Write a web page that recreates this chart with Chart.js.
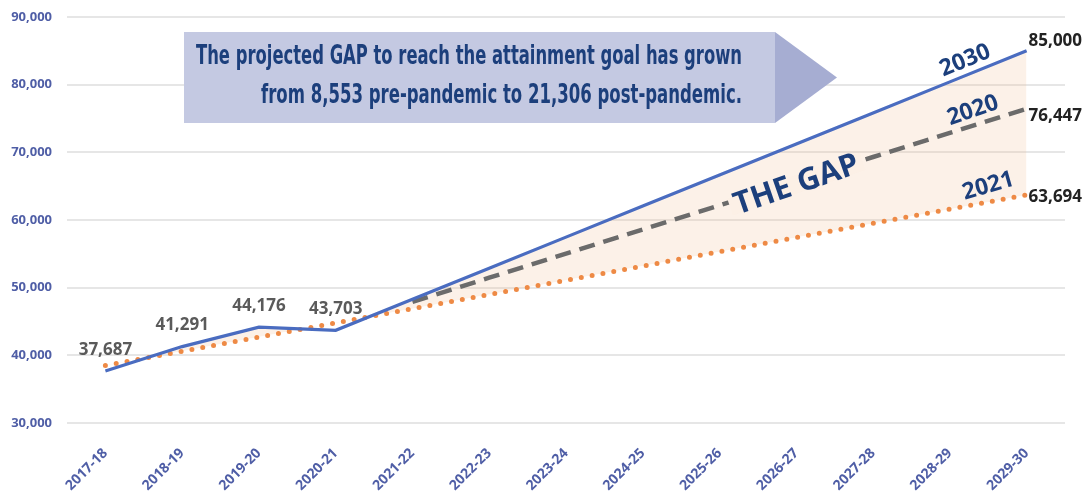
<!DOCTYPE html>
<html><head><meta charset="utf-8">
<script src="https://cdn.jsdelivr.net/npm/chart.js@4/dist/chart.umd.min.js"></script>
<style>html,body{margin:0;padding:0;background:#fff;overflow:hidden}#wrap{width:1087px;height:491px;position:relative}</style>
</head><body><div id="wrap"><canvas id="c" width="1087" height="491"></canvas></div>
<script>
// ---- data ----
const categories = ['2017-18','2018-19','2019-20','2020-21','2021-22','2022-23','2023-24','2024-25','2025-26','2026-27','2027-28','2028-29','2029-30'];
const goal2030 = [37687, 41291, 44176, 43703, 48292, 52880, 57469, 62058, 66646, 71235, 75823, 80412, 85000];
const goal2020 = [null, null, null, null, 47900, 51470, 55040, 58600, 62170, 65740, 69310, 72880, 76447];
const goal2021 = [38500, 40600, 42700, 44800, 46900, 49000, 51100, 53200, 55300, 57400, 59500, 61600, 63694];
const actualLabels = ['37,687', '41,291', '44,176', '43,703'];
const endLabels = ['85,000', '76,447', '63,694'];
const seriesNames = ['2030', '2020', '2021'];
const yTicks = [30000, 40000, 50000, 60000, 70000, 80000, 90000];
const calloutLines = ['The projected GAP to reach the attainment goal has grown', 'from 8,553 pre-pandemic to 21,306 post-pandemic.'];
const gapLabel = 'THE GAP';

const BLUE = '#4a6cc0', GREY = '#6b6b6b', ORANGE = '#ee8a45', NAVY = '#1c3f7c', TICK = '#4f5ea6';
const FILL = 'rgb(252,240,230)';

function xAt(chart, idx) {
  const xs = chart.scales.x;
  const i0 = Math.floor(idx), f = idx - i0;
  const p0 = xs.getPixelForValue(i0);
  const p1 = xs.getPixelForValue(Math.min(i0 + 1, categories.length - 1));
  return p0 + (p1 - p0) * f;
}
function valAt(arr, idx) {
  const i0 = Math.floor(idx), f = idx - i0;
  const a = arr[i0], b = arr[Math.min(i0 + 1, arr.length - 1)];
  return a + (b - a) * f;
}

const annot = {
  id: 'annot',
  beforeDatasetsDraw(chart) {
    const ctx = chart.ctx;
    ctx.save();
    ctx.fillStyle = '#c4c9e2';
    ctx.fillRect(184, 32, 591, 91);
    ctx.fillStyle = '#a6add2';
    ctx.beginPath(); ctx.moveTo(775, 32); ctx.lineTo(837, 77.5); ctx.lineTo(775, 123); ctx.closePath(); ctx.fill();
    ctx.fillStyle = NAVY;
    ctx.textAlign = 'right'; ctx.textBaseline = 'alphabetic';
    ctx.font = 'bold 27px "Liberation Sans Narrow", "DejaVu Sans Condensed", sans-serif';
    ctx.fillText(calloutLines[0], 742, 64, 546);
    ctx.fillText(calloutLines[1], 742, 103, 481);
    ctx.restore();
  },
  afterDatasetsDraw(chart) {
    const ctx = chart.ctx, ys = chart.scales.y;
    ctx.save();
    ctx.font = 'bold 17px "Open Sans", sans-serif';
    ctx.fillStyle = '#5a5a5a';
    ctx.textAlign = 'center'; ctx.textBaseline = 'middle';
    actualLabels.forEach((t, i) => {
      ctx.fillText(t, xAt(chart, i), ys.getPixelForValue(goal2030[i]) - 21);
    });
    ctx.fillStyle = '#222';
    ctx.textAlign = 'left';
    const last = categories.length - 1;
    const ends = [goal2030[last], goal2020[last], goal2021[last]];
    const offs = [-10, 7, 2];
    endLabels.forEach((t, k) => {
      ctx.fillText(t, xAt(chart, last) + 2, ys.getPixelForValue(ends[k]) + offs[k]);
    });
    ctx.fillStyle = NAVY;
    ctx.textAlign = 'center';
    ctx.font = 'bold 23px "Open Sans", sans-serif';
    const spec = [[goal2030, 11.2, -15, -22], [goal2020, 11.3, -15, -19], [goal2021, 11.5, -16, -16]];
    spec.forEach((s, k) => {
      const x = xAt(chart, s[1]), y = ys.getPixelForValue(valAt(s[0], s[1])) + s[2];
      ctx.save(); ctx.translate(x, y); ctx.rotate(s[3] * Math.PI / 180);
      ctx.fillText(seriesNames[k], 0, 0); ctx.restore();
    });
    const gi = 9.0;
    const gx = xAt(chart, gi), gy = ys.getPixelForValue(valAt(goal2020, gi)) + 3;
    ctx.save(); ctx.translate(gx, gy); ctx.rotate(-19 * Math.PI / 180);
    ctx.fillStyle = FILL;
    ctx.fillRect(-70, -9, 140, 18);
    ctx.fillStyle = NAVY;
    ctx.font = 'bold 31px "Open Sans", sans-serif';
    ctx.fillText(gapLabel, 0, 1);
    ctx.restore();
    ctx.restore();
  }
};

new Chart(document.getElementById('c'), {
  type: 'line',
  data: {
    labels: categories,
    datasets: [
      { label: '2030', data: goal2030, borderColor: BLUE, borderWidth: 3.2, pointRadius: 0, tension: 0,
        fill: { target: 2, above: 'rgba(240,190,150,0.22)', below: 'rgba(0,0,0,0)' } },
      { label: '2020', data: goal2020, borderColor: GREY, borderWidth: 4.5, borderDash: [16, 9], pointRadius: 0, tension: 0, fill: false, spanGaps: false },
      { label: '2021', data: goal2021, borderColor: ORANGE, borderWidth: 5, borderDash: [0, 11], borderCapStyle: 'round', pointRadius: 0, tension: 0, fill: false }
    ]
  },
  options: {
    responsive: false, animation: false, devicePixelRatio: 1,
    layout: { padding: { top: 17, right: 22, left: 0, bottom: 0 } },
    plugins: { legend: { display: false }, tooltip: { enabled: false }, filler: { drawTime: 'beforeDatasetsDraw' } },
    scales: {
      x: {
        offset: true,
        grid: { display: false }, border: { display: false },
        ticks: { color: TICK, font: { family: 'Open Sans', weight: 'bold', size: 14 }, maxRotation: 45, minRotation: 45, padding: 14, autoSkip: false },
        afterFit(s) { s.height = 68; }
      },
      y: {
        min: 30000, max: 90000,
        grid: { color: '#e6e6e6', lineWidth: 2, drawTicks: false }, border: { display: false },
        ticks: { color: TICK, font: { family: 'Open Sans', weight: 'bold', size: 13 }, padding: 15,
          callback: v => v.toLocaleString('en-US') },
        afterBuildTicks(s) { s.ticks = yTicks.map(v => ({ value: v })); },
        afterFit(s) { s.width = 67; s.paddingTop = 0; s.paddingBottom = 0; }
      }
    }
  },
  plugins: [annot]
});
</script></body></html>
